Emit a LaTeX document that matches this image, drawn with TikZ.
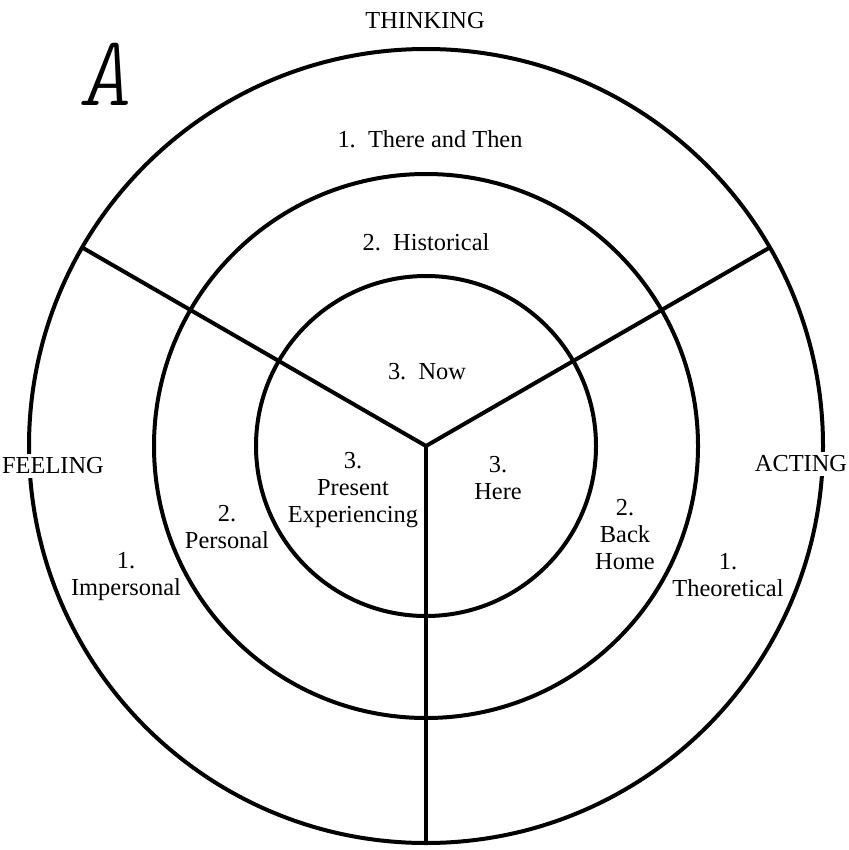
\documentclass[tikz,border=0pt]{standalone}
\usepackage{fontspec}
\setmainfont{Liberation Serif}
\usetikzlibrary{calc}
\begin{document}
\begin{tikzpicture}
  [x=0.5pt,y=-0.5pt,
   every node/.style={align=center,inner sep=1pt,font=\fontsize{12.2}{13.5}\selectfont},
   ring/.style={line width=2pt},
   gap/.style={fill=white,inner sep=2pt}]
  \useasboundingbox (0,0) rectangle (849,850);
  \coordinate (c) at (426,446);
  % the three rings
  \draw[ring] (c) circle[radius=198.5pt];
  \draw[ring] (c) circle[radius=136pt];
  \draw[ring] (c) circle[radius=85pt];
  % the three spokes
  \foreach \a/\n in {30/ac,150/fe,270/bo}
    \coordinate (\n) at ($(c)+(\a:198.5pt)$);
  \draw[ring,line join=miter] (fe) -- (c) -- (ac);
  \draw[ring] (c) -- (bo);
  % outer labels
  \node (think) at (425,21) {THINKING};
  \node[gap] (feel) at (53,466) {FEELING};
  \node[gap] (act) at (801,464) {ACTING};
  \node (tag) at (105,74) {\fontsize{50}{50}\fontseries{l}\ttfamily\itshape A};
  % ring 1
  \node (then) at (430,139) {1.~~There and Then};
  \node (imp) at (126,577) {1.\\Impersonal};
  \node (theo) at (728,575) {1.\\Theoretical};
  % ring 2
  \node (hist) at (426,242) {2.~~Historical};
  \node (pers) at (227,527) {2.\\Personal};
  \node (home) at (625,535) {2.\\Back\\Home};
  % ring 3
  \node (now) at (427,372) {3.~~Now};
  \node (pres) at (353,490) {3.\\Present\\Experiencing};
  \node (here) at (498,478) {3.\\Here};
\end{tikzpicture}
\end{document}
